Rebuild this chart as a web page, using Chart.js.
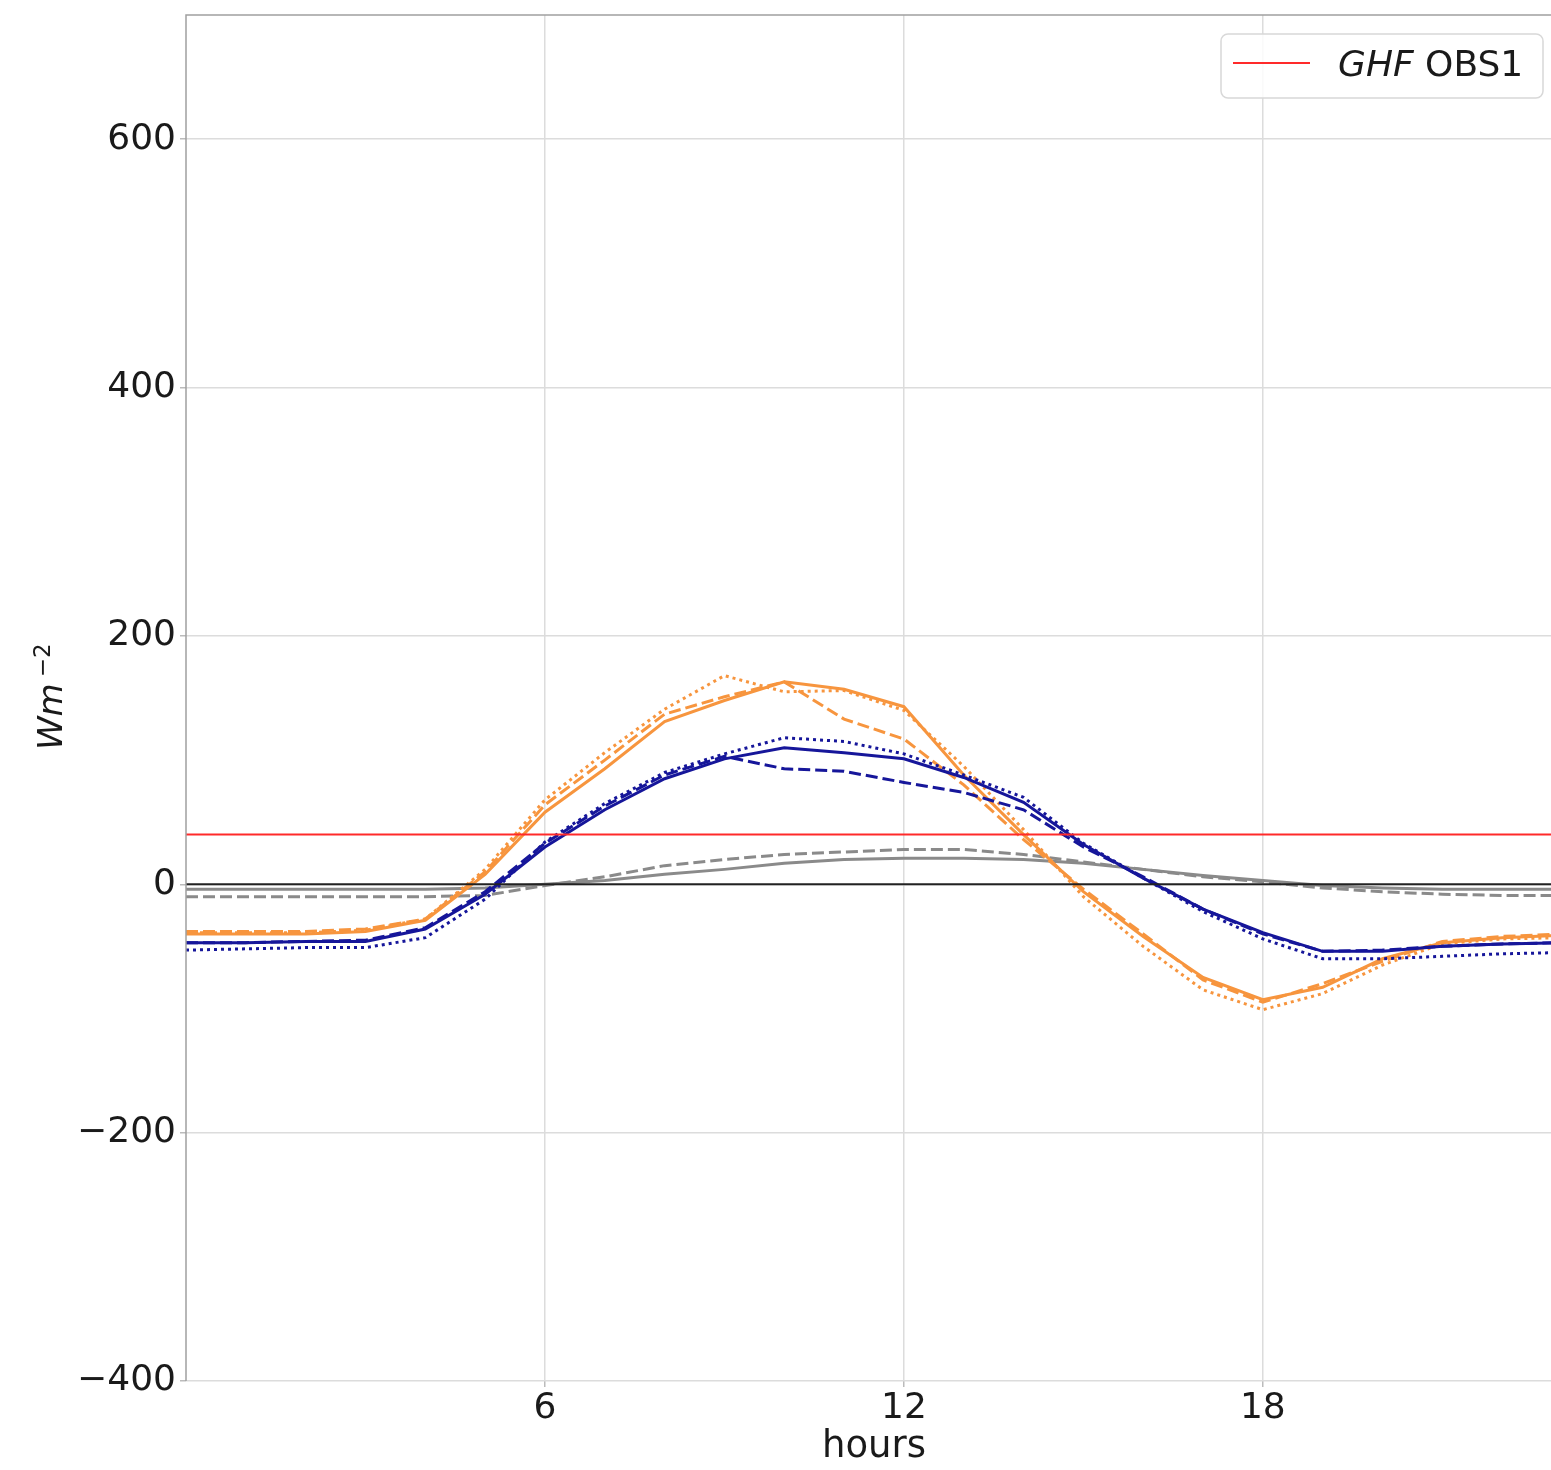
<!DOCTYPE html>
<html><head><meta charset="utf-8">
<script src="https://cdn.jsdelivr.net/npm/chart.js@4.4.1/dist/chart.umd.min.js"></script>
<style>html,body{margin:0;padding:0;background:#fff;overflow:hidden;width:1551px;height:1470px}
#wrap{width:1562px;height:1470px;position:relative}</style>
</head><body><div id="wrap"><canvas id="c" width="1562" height="1470"></canvas></div>
<script>
const hours = [0,1,2,3,4,5,6,7,8,9,10,11,12,13,14,15,16,17,18,19,20,21,22,23];
const xTicks = [6,12,18];
const yTicks = [-400,-200,0,200,400,600];

const orangeSolid  = [-40,-40,-40,-38,-29,8,58,93,131,148,163,157,143,88,40,-6,-42,-75,-93,-83,-60,-47,-43,-41];
const orangeDashed = [-38,-38,-38,-36,-28,10,64,100,137,151,163,133,117,80,36,-4,-40,-77,-95,-80,-62,-46,-42,-40];
const orangeDotted = [-39,-39,-39,-37,-28,12,68,106,141,168,155,156,140,95,44,-10,-50,-85,-101,-88,-65,-48,-44,-43];

const navySolid  = [-47,-47,-46,-46,-36,-8,30,60,85,101,110,106,101,86,66,32,5,-20,-39,-54,-54,-50,-48,-47];
const navyDashed = [-47,-47,-46,-45,-35,-6,33,63,88,103,93,91,82,74,60,30,6,-20,-40,-54,-53,-50,-48,-47];
const navyDotted = [-53,-52,-51,-51,-43,-12,34,65,90,105,118,115,105,88,70,33,5,-22,-44,-60,-60,-58,-56,-55];

const greySolid  = [-4,-4,-4,-4,-4,-3,0,3,8,12,17,20,21,21,20,17,12,7,3,-1,-3,-4,-4,-4];
const greyDashed = [-10,-10,-10,-10,-10,-9,-1,6,15,20,24,26,28,28,24,18,12,6,2,-3,-6,-8,-9,-9];

const obs1Value = 40;
const zeroValue = 0;

const FONT = "'DejaVu Sans', sans-serif";
const ORANGE = '#f7953e', NAVY = '#16169a', GREY = '#8a8a8a';
const DASH = [12,5], DOT = [3,4];

const xy = arr => hours.map((h,i)=>({x:h, y:arr[i]}));
const flat = v => hours.map(h=>({x:h, y:v}));

function ds(data, color, dash, width){
  return {data, borderColor:color, borderWidth:width||3, borderDash:dash||[], pointRadius:0, tension:0, fill:false};
}

const extras = {
  id:'extras',
  afterDraw(chart){
    const {ctx, chartArea:a} = chart;
    ctx.save();
    ctx.strokeStyle = '#a0a0a0'; ctx.lineWidth = 1.5;
    ctx.beginPath(); ctx.moveTo(a.left, a.bottom); ctx.lineTo(a.left, a.top); ctx.lineTo(a.right, a.top); ctx.stroke();
    ctx.fillStyle = '#1a1a1a';
    ctx.translate(62, 750); ctx.rotate(-Math.PI/2);
    ctx.textBaseline = 'alphabetic'; ctx.textAlign = 'left';
    ctx.font = "oblique 34px " + FONT;
    ctx.fillText('Wm', 0, 0);
    const w = ctx.measureText('Wm').width;
    ctx.font = "23px " + FONT;
    ctx.fillText('\u22122', w + 6, -12);
    ctx.restore();
    ctx.save();
    const lx = 1221, ly = 34, lw = 322, lh = 64, r = 7;
    ctx.beginPath();
    ctx.moveTo(lx+r, ly); ctx.lineTo(lx+lw-r, ly); ctx.arcTo(lx+lw, ly, lx+lw, ly+r, r);
    ctx.lineTo(lx+lw, ly+lh-r); ctx.arcTo(lx+lw, ly+lh, lx+lw-r, ly+lh, r);
    ctx.lineTo(lx+r, ly+lh); ctx.arcTo(lx, ly+lh, lx, ly+lh-r, r);
    ctx.lineTo(lx, ly+r); ctx.arcTo(lx, ly, lx+r, ly, r); ctx.closePath();
    ctx.fillStyle = 'rgba(255,255,255,0.85)'; ctx.fill();
    ctx.strokeStyle = '#d8d8d8'; ctx.lineWidth = 1.5; ctx.stroke();
    ctx.strokeStyle = '#ff2a2a'; ctx.lineWidth = 2;
    ctx.beginPath(); ctx.moveTo(1233, 63); ctx.lineTo(1310, 63); ctx.stroke();
    ctx.fillStyle = '#1a1a1a'; ctx.textBaseline = 'alphabetic'; ctx.textAlign = 'left';
    ctx.font = "oblique 36px " + FONT;
    ctx.fillText('GHF', 1338, 76);
    const g = ctx.measureText('GHF ').width;
    ctx.font = "36px " + FONT;
    ctx.fillText('OBS1', 1338 + g, 76);
    ctx.restore();
  }
};

new Chart(document.getElementById('c'), {
  type:'line',
  data:{ datasets:[
    ds(flat(zeroValue), '#222222', [], 2),
    ds(flat(obs1Value), '#ff2a2a', [], 2),
    ds(xy(navySolid), NAVY),
    ds(xy(navyDashed), NAVY, DASH),
    ds(xy(navyDotted), NAVY, DOT),
    ds(xy(orangeSolid), ORANGE),
    ds(xy(orangeDashed), ORANGE, DASH),
    ds(xy(orangeDotted), ORANGE, DOT),
    ds(xy(greySolid), GREY),
    ds(xy(greyDashed), GREY, DASH)
  ]},
  options:{
    responsive:false, animation:false,
    layout:{padding:{left:0,right:0,top:15,bottom:0}},
    plugins:{legend:{display:false}, tooltip:{enabled:false}},
    scales:{
      x:{type:'linear', min:0, max:23,
        afterBuildTicks: s => { s.ticks = xTicks.map(v=>({value:v})); },
        afterFit: s => { s.height = 89; s.paddingLeft = 0; s.paddingRight = 0; },
        grid:{color:'#dcdcdc', lineWidth:1.5, drawTicks:true, tickLength:6, tickColor:'#bbbbbb'},
        border:{display:false},
        ticks:{font:{family:FONT,size:36}, color:'#1a1a1a', padding:0, maxRotation:0, autoSkip:false},
        title:{display:true, text:'hours', font:{family:FONT,size:37}, color:'#1a1a1a', padding:{top:0,bottom:0}}
      },
      y:{min:-400, max:700,
        afterBuildTicks: s => { s.ticks = yTicks.map(v=>({value:v})); },
        afterFit: s => { s.width = 186; s.paddingTop = 0; s.paddingBottom = 0; },
        grid:{color:'#dcdcdc', lineWidth:1.5, drawTicks:true, tickLength:6, tickColor:'#bbbbbb'},
        border:{display:false},
        ticks:{font:{family:FONT,size:36}, color:'#1a1a1a', padding:4, autoSkip:false,
          callback: v => v < 0 ? '\u2212' + Math.abs(v) : String(v)}
      }
    }
  },
  plugins:[extras]
});
</script></body></html>
